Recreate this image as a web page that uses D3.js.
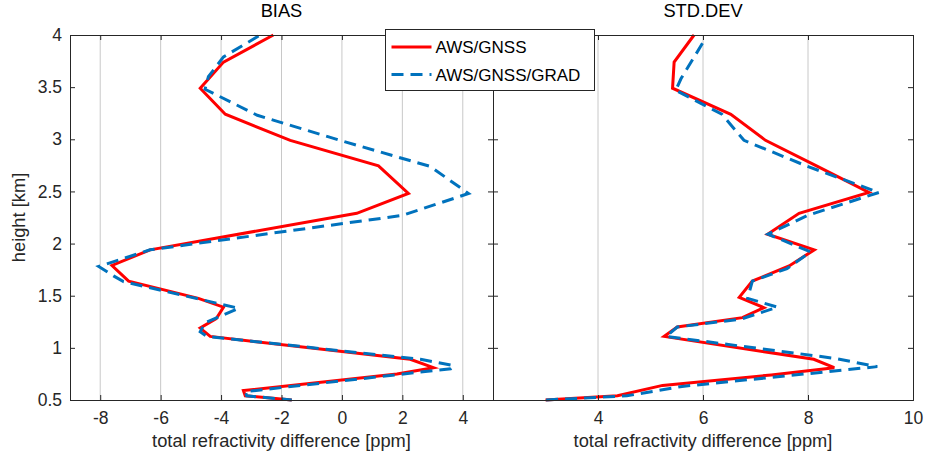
<!DOCTYPE html>
<html>
<head>
<meta charset="utf-8">
<script src="https://cdn.jsdelivr.net/npm/d3@7"></script>
<style>
  body { margin: 0; background: #fff; }
  text { font-family: "Liberation Sans", Arial, sans-serif; }
</style>
</head>
<body>
<div id="chart"></div>
<script>
// ticks
const heightTicks = [0.5, 1, 1.5, 2, 2.5, 3, 3.5, 4];
const biasTicks = [-8, -6, -4, -2, 0, 2, 4];
const stdTicks = [4, 6, 8, 10];

// BIAS, AWS/GNSS
const biasHeightA = [4.0, 3.74, 3.49, 3.24, 2.99, 2.745, 2.48, 2.29, 1.94, 1.79, 1.64, 1.475, 1.39, 1.28, 1.19, 1.11, 0.89, 0.81, 0.75, 0.59, 0.54, 0.5];
const biasA = [-2.27, -3.92, -4.69, -3.86, -1.71, 1.21, 2.2, 0.49, -6.35, -7.61, -7.06, -4.75, -3.92, -4.16, -4.69, -4.36, 2.26, 3.03, 1.82, -3.26, -3.2, -1.66];

// BIAS, AWS/GNSS/GRAD
const biasHeightB = [3.99, 3.79, 3.60, 3.48, 3.23, 2.98, 2.74, 2.48, 2.27, 1.94, 1.78, 1.69, 1.635, 1.38, 1.24, 1.155, 1.11, 0.89, 0.83, 0.80, 0.58, 0.54, 0.5];
const biasB = [-2.76, -3.92, -4.42, -4.53, -2.8, 0.05, 2.92, 4.19, 2.0, -6.35, -8.05, -7.56, -7.23, -3.42, -4.53, -4.69, -4.47, 2.6, 3.7, 3.6, -3.2, -3.15, -1.66];

// STD.DEV, AWS/GNSS
const stdHeightA = [4.0, 3.74, 3.49, 3.24, 2.99, 2.74, 2.49, 2.29, 2.09, 1.94, 1.785, 1.64, 1.485, 1.385, 1.29, 1.20, 1.11, 0.89, 0.81, 0.74, 0.64, 0.54, 0.5];
const stdA = [5.83, 5.45, 5.42, 6.53, 7.19, 8.18, 9.16, 7.83, 7.23, 8.12, 7.64, 6.94, 6.69, 7.16, 6.75, 5.51, 5.26, 8.11, 8.50, 7.3, 5.23, 4.37, 3.0];

// STD.DEV, AWS/GNSS/GRAD
const stdHeightB = [3.92, 3.58, 3.47, 3.24, 2.99, 2.74, 2.49, 2.27, 2.09, 1.92, 1.76, 1.64, 1.475, 1.39, 1.275, 1.20, 1.11, 0.90, 0.82, 0.63, 0.54, 0.5];
const stdB = [5.99, 5.58, 5.48, 6.36, 6.78, 7.99, 9.35, 7.99, 7.24, 8.05, 7.6, 6.94, 6.85, 7.42, 6.72, 5.51, 5.3, 8.5, 9.32, 5.6, 4.55, 3.0];

const seriesNames = ["AWS/GNSS", "AWS/GNSS/GRAD"];
const colors = ["#ff0000", "#0072bd"];
const dashes = [null, "12,7"];

const width = 936, height = 454;
const axisColor = "#262626";

const y = d3.scaleLinear([0.5, 4], [400, 35]);
const xBias = d3.scaleLinear([-9, 5], [70, 493]);
const xStd = d3.scaleLinear([2, 10], [493, 913]);

const svg = d3.select("#chart").append("svg")
    .attr("width", width)
    .attr("height", height)
    .attr("viewBox", [0, 0, width, height]);

function drawPanel(x, ticks, title, lines, yLabels) {
  const [x0, x1] = x.range();
  const [y0, y1] = [y(4), y(0.5)];
  const g = svg.append("g");

  // grid
  g.append("g")
    .selectAll("line")
    .data(ticks.filter(t => x(t) > x0 + 1 && x(t) < x1 - 1))
    .join("line")
      .attr("x1", d => x(d)).attr("x2", d => x(d))
      .attr("y1", y0).attr("y2", y1)
      .attr("stroke", "#c8c8c8")
      .attr("stroke-width", 1);

  // profiles
  const line = d3.line().x(d => x(d[0])).y(d => y(d[1]));
  lines.forEach(([vals, hts], i) => {
    g.append("path")
        .datum(d3.zip(vals, hts))
        .attr("fill", "none")
        .attr("stroke", colors[i])
        .attr("stroke-width", 3)
        .attr("stroke-dasharray", dashes[i])
        .attr("d", line);
  });

  // axes (ticks pointing inward), plain hyphen for negatives
  g.append("g")
      .attr("transform", `translate(0,${y1})`)
      .call(d3.axisBottom(x).tickValues(ticks).tickSize(-5).tickPadding(12).tickFormat(d => String(d)))
      .call(a => a.selectAll("text").attr("font-size", 17.5).attr("fill", axisColor));
  g.append("g")
      .attr("transform", `translate(0,${y0})`)
      .call(d3.axisTop(x).tickValues(ticks).tickSize(-5).tickFormat(""));
  g.append("g")
      .attr("transform", `translate(${x0},0)`)
      .call(d3.axisLeft(y).tickValues(heightTicks).tickSize(-5).tickPadding(8)
        .tickFormat(yLabels ? d => String(d) : ""))
      .call(a => a.selectAll("text").attr("font-size", 17.5).attr("fill", axisColor));
  g.append("g")
      .attr("transform", `translate(${x1},0)`)
      .call(d3.axisRight(y).tickValues(heightTicks).tickSize(-5).tickFormat(""));
  g.selectAll(".domain").attr("stroke", axisColor);
  g.selectAll(".tick line").attr("stroke", axisColor);
  g.selectAll("g").attr("font-family", null);

  g.append("text")
      .attr("x", (x0 + x1) / 2)
      .attr("y", 17)
      .attr("text-anchor", "middle")
      .attr("font-size", 18.3)
      .attr("fill", "#000")
      .text(title);

  g.append("text")
      .attr("x", (x0 + x1) / 2)
      .attr("y", 447)
      .attr("text-anchor", "middle")
      .attr("font-size", 18.3)
      .attr("fill", axisColor)
      .text("total refractivity difference [ppm]");
}

drawPanel(xBias, biasTicks, "BIAS", [[biasA, biasHeightA], [biasB, biasHeightB]], true);
drawPanel(xStd, stdTicks, "STD.DEV", [[stdA, stdHeightA], [stdB, stdHeightB]], false);

svg.append("text")
    .attr("transform", `translate(25,${(y(4) + y(0.5)) / 2}) rotate(-90)`)
    .attr("text-anchor", "middle")
    .attr("font-size", 18.3)
    .attr("fill", axisColor)
    .text("height [km]");

// legend
const legend = svg.append("g").attr("transform", "translate(385.5,29.5)");
legend.append("rect")
    .attr("width", 209).attr("height", 61)
    .attr("fill", "#fff").attr("stroke", axisColor);
seriesNames.forEach((name, i) => {
  const ly = 17.5 + i * 27.5;
  legend.append("line")
      .attr("x1", 6).attr("x2", 46)
      .attr("y1", ly).attr("y2", ly)
      .attr("stroke", colors[i]).attr("stroke-width", 3)
      .attr("stroke-dasharray", dashes[i]);
  legend.append("text")
      .attr("x", 50).attr("y", ly + 6)
      .attr("font-size", 17)
      .attr("fill", "#000")
      .text(name);
});
</script>
</body>
</html>
